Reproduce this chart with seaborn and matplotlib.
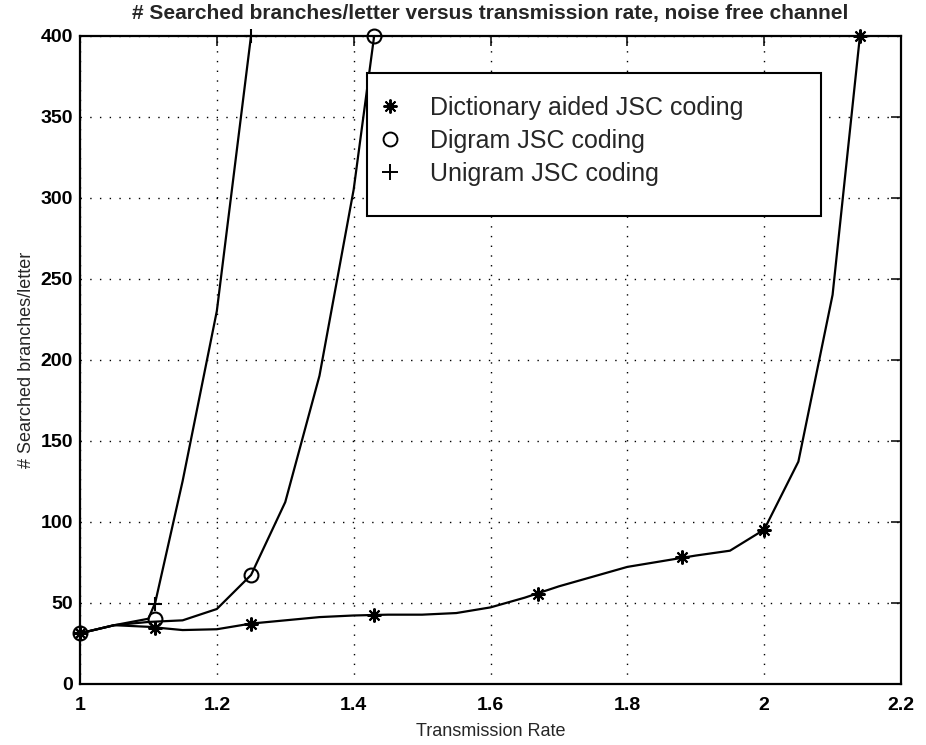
import matplotlib
matplotlib.use("Agg")
import matplotlib.pyplot as plt
import seaborn as sns
import pandas as pd
from matplotlib.lines import Line2D
from matplotlib.patches import Rectangle

# ---- data ----
# smooth curves (line vertices)
dict_line_x = [1.0, 1.05, 1.1, 1.15, 1.2, 1.25, 1.3, 1.35, 1.4, 1.45, 1.5, 1.55, 1.6, 1.65,
               1.7, 1.75, 1.8, 1.85, 1.9, 1.95, 2.0, 2.05, 2.1, 2.14]
dict_line_y = [31, 36, 35, 33, 33.5, 37, 39, 41, 42, 42.5, 42.5, 43.5, 47, 53,
               60, 66, 72, 75.5, 79, 82, 95, 137, 240, 400]
digram_line_x = [1.0, 1.05, 1.1, 1.15, 1.2, 1.25, 1.3, 1.35, 1.4, 1.43]
digram_line_y = [31, 36, 38, 39, 46, 67, 112, 190, 305, 400]
unigram_line_x = [1.0, 1.05, 1.1, 1.11, 1.15, 1.2, 1.25]
unigram_line_y = [31, 36, 40, 50, 125, 230, 400]

# measured points (markers)
dict_pts_x = [1.0, 1.11, 1.25, 1.43, 1.67, 1.88, 2.0, 2.14]
dict_pts_y = [31, 34, 37, 42, 55, 78, 95, 400]
digram_pts_x = [1.0, 1.11, 1.25, 1.43]
digram_pts_y = [31, 40, 67, 400]
unigram_pts_x = [1.0, 1.11, 1.25]
unigram_pts_y = [31, 49, 400]

labels = ["Dictionary aided JSC coding", "Digram JSC coding", "Unigram JSC coding"]
x_ticks = [1, 1.2, 1.4, 1.6, 1.8, 2, 2.2]
x_ticklabels = ["1", "1.2", "1.4", "1.6", "1.8", "2", "2.2"]
y_ticks = [0, 50, 100, 150, 200, 250, 300, 350, 400]

sns.set_theme(style="white")
plt.rcParams["font.family"] = ["Liberation Sans", "DejaVu Sans"]

W, H = 926, 745
fig = plt.figure(figsize=(W / 100, H / 100), dpi=100)
ax = fig.add_axes([80 / W, 1 - 683.5 / H, (901 - 80) / W, (683.5 - 35.7) / H])

STAR = (8, 2, 0)
series = [
    (dict_line_x, dict_line_y, dict_pts_x, dict_pts_y, STAR),
    (digram_line_x, digram_line_y, digram_pts_x, digram_pts_y, "o"),
    (unigram_line_x, unigram_line_y, unigram_pts_x, unigram_pts_y, "+"),
]
for lx, ly, px, py, mk in series:
    df = pd.DataFrame({"x": lx, "y": ly})
    sns.lineplot(data=df, x="x", y="y", ax=ax, color="black", lw=1.6,
                 estimator=None, sort=False)
    ax.plot(px, py, linestyle="none", marker=mk, markersize=10,
            markerfacecolor="none", markeredgecolor="black", markeredgewidth=1.5,
            clip_on=False, zorder=5)

ax.set_xlim(1, 2.2)
ax.set_ylim(0, 400)
ax.set_xticks(x_ticks)
ax.set_xticklabels(x_ticklabels)
ax.set_yticks(y_ticks)

ax.grid(True, color="black", linestyle=(0, (1, 6)), linewidth=1.0)
for s in ax.spines.values():
    s.set_color("black")
    s.set_linewidth(1.6)
ax.tick_params(axis="both", direction="in", length=7, width=1.1, colors="black",
               top=True, right=True, labelsize=14, pad=5)
ax.tick_params(axis="x", pad=10)
for t in ax.get_xticklabels() + ax.get_yticklabels():
    t.set_fontweight("bold")

ax.set_xlabel("Transmission Rate", fontsize=13, labelpad=6)
ax.set_ylabel("# Searched branches/letter", fontsize=13, labelpad=4)
ax.set_title("# Searched branches/letter versus transmission rate, noise free channel",
             fontsize=15, fontweight="bold", pad=12)

# legend box (MATLAB-style)
box = Rectangle((367 / W, 1 - 216 / H), (821 - 367) / W, (216 - 73) / H,
                transform=fig.transFigure, facecolor="white", edgecolor="black",
                linewidth=1.5, zorder=10)
fig.patches.append(box)

handles = [Line2D([], [], linestyle="none", marker=STAR, markersize=10,
                  markerfacecolor="none", markeredgecolor="black", markeredgewidth=1.4),
           Line2D([], [], linestyle="none", marker="o", markersize=10,
                  markerfacecolor="none", markeredgecolor="black", markeredgewidth=1.4),
           Line2D([], [], linestyle="none", marker="+", markersize=12,
                  markerfacecolor="none", markeredgecolor="black", markeredgewidth=1.4)]
leg = fig.legend(handles, labels, loc="upper left",
                 bbox_to_anchor=(377 / W, 1 - 96 / H), bbox_transform=fig.transFigure,
                 borderaxespad=0, borderpad=0, fontsize=18, frameon=False,
                 labelspacing=0.36, handlelength=1.0, handletextpad=1.1)
leg.set_zorder(11)

fig.savefig("out.png", dpi=100)
